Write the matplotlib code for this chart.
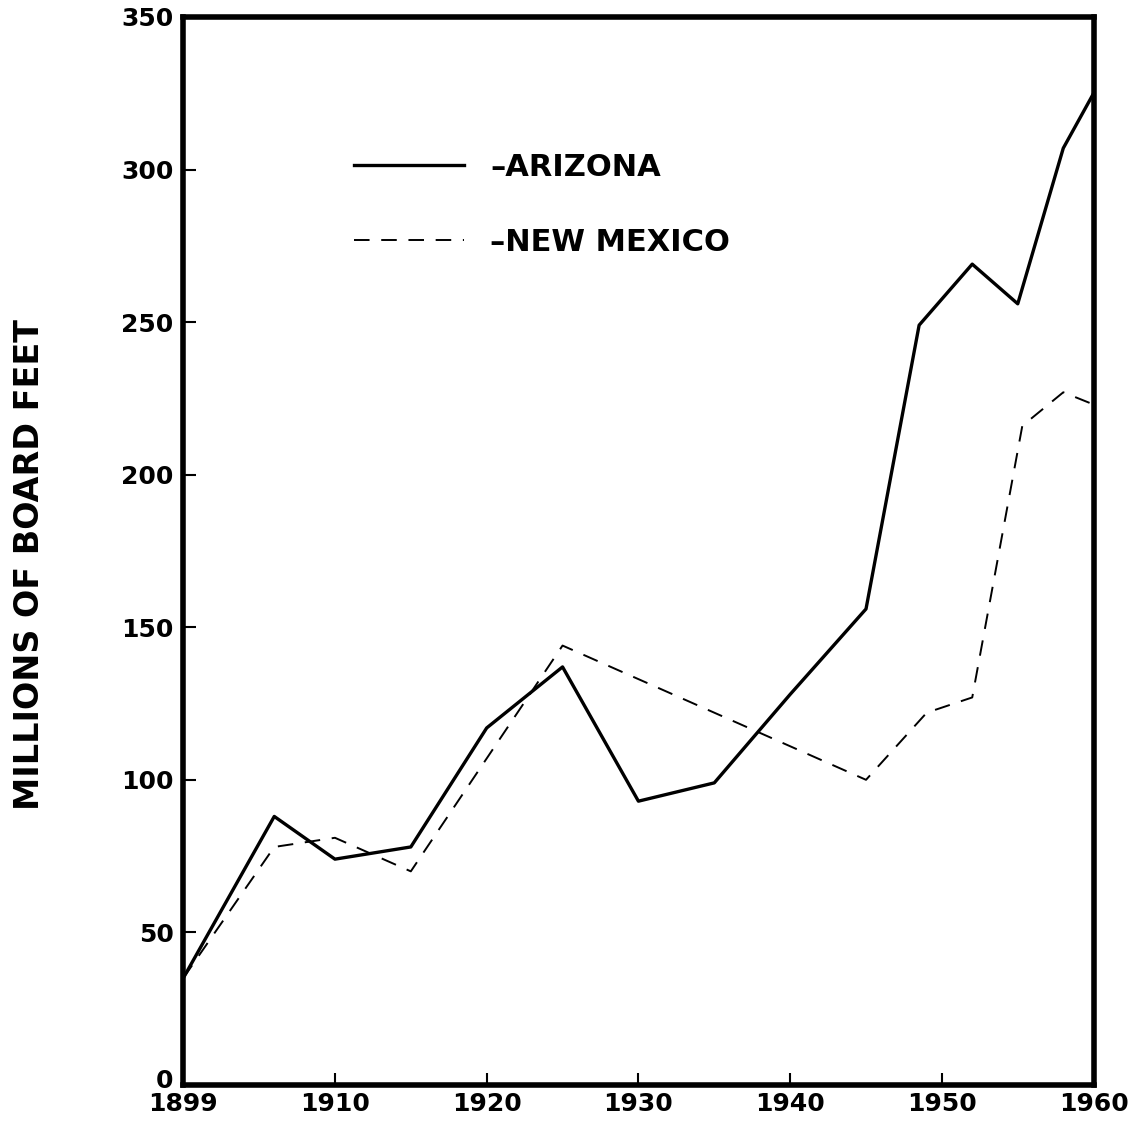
import matplotlib
matplotlib.use("Agg")
import matplotlib.pyplot as plt
from matplotlib.transforms import ScaledTranslation


# Lumber production, millions of board feet
AZ_YEARS = [1899, 1906, 1910, 1915, 1920, 1925, 1930, 1935, 1940, 1945, 1948.5, 1952, 1955, 1958, 1960]
AZ_VALUES = [35, 88, 74, 78, 117, 137, 93, 99, 128, 156, 249, 269, 256, 307, 325]

NM_YEARS = [1899, 1906, 1910, 1915, 1920, 1925, 1945, 1949, 1952, 1955.3, 1958, 1960]
NM_VALUES = [35, 78, 81, 70, 107, 144, 100, 122, 127, 216, 227, 223]

X_TICKS = [1900, 1910, 1920, 1930, 1940, 1950, 1960]
X_TICK_LABELS = ["1899", "1910", "1920", "1930", "1940", "1950", "1960"]
Y_TICKS = [0, 50, 100, 150, 200, 250, 300, 350]


def _axis_pos(years):
    # the original plots the 1899 census on the 1900 line
    return [1900 if y == 1899 else y for y in years]


def main() -> None:
    plt.rcParams["font.family"] = ["DejaVu Sans"]
    plt.rcParams["font.weight"] = "bold"

    fig = plt.figure(figsize=(11.38, 11.25), dpi=100)
    ax = fig.add_axes([0.161, 0.0356, 0.800, 0.9493])

    ax.plot(_axis_pos(AZ_YEARS), AZ_VALUES, color="black", linewidth=2.4,
            label="\u2013ARIZONA")
    ax.plot(_axis_pos(NM_YEARS), NM_VALUES, color="black", linewidth=1.4,
            dashes=(8, 6), label="\u2013NEW MEXICO")

    ax.set_xlim(1900, 1960)
    ax.set_ylim(0, 350)
    ax.set_xticks(X_TICKS)
    ax.set_xticklabels(X_TICK_LABELS)
    ax.set_yticks(Y_TICKS)

    for spine in ax.spines.values():
        spine.set_linewidth(4)
    ax.tick_params(direction="in", length=9, width=1.5, pad=7)
    ax.tick_params(axis="y", labelsize=18)
    ax.tick_params(axis="x", labelsize=18, pad=5)

    # the "0" sits just above the year labels, nudge it up so they don't collide
    fig.canvas.draw()
    zero_label = ax.get_yticklabels()[0]
    zero_label.set_transform(zero_label.get_transform()
                             + ScaledTranslation(0, 5 / 72, fig.dpi_scale_trans))

    ax.set_ylabel("MILLIONS OF BOARD FEET", fontsize=24, fontweight="bold")
    ax.yaxis.set_label_coords(-0.151, 0.487)

    ax.legend(loc="upper left", bbox_to_anchor=(0.171, 0.887), frameon=False,
              borderpad=0, fontsize=22, handlelength=3.6, handletextpad=0.85,
              labelspacing=1.5)

    fig.savefig("out.png", dpi=100)
    plt.close(fig)


if __name__ == "__main__":
    main()
